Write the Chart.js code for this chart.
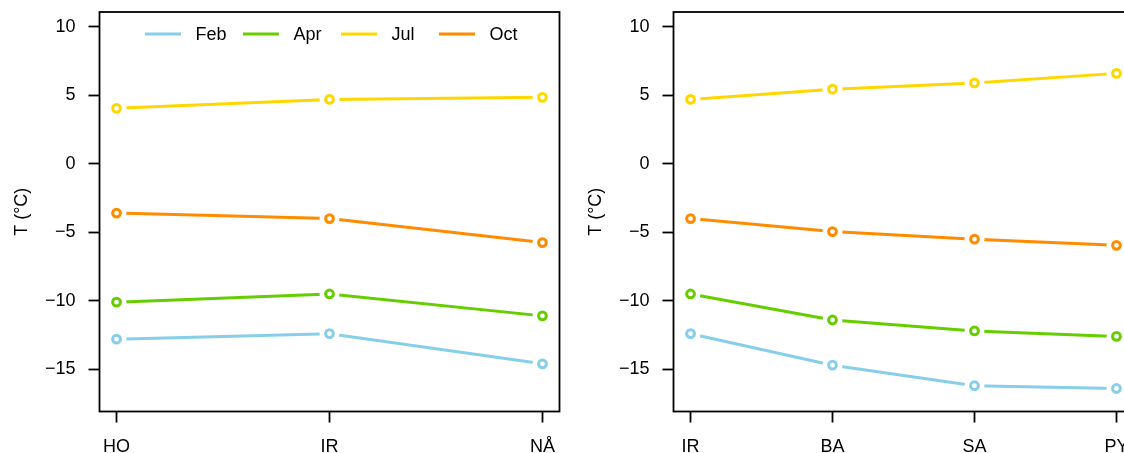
<!DOCTYPE html>
<html>
<head>
<meta charset="utf-8">
<script src="https://cdn.jsdelivr.net/npm/chart.js@4.4.0/dist/chart.umd.min.js"></script>
<style>
  html, body { margin: 0; padding: 0; background: #fff; overflow: hidden; width: 1124px; height: 453px; }
  canvas { position: absolute; top: 0; }
  #left { left: 0; }
  #right { left: 574px; }
</style>
</head>
<body>
<canvas id="left" width="572" height="453"></canvas>
<canvas id="right" width="572" height="453"></canvas>
<script>
// months / colours shared by both panels
const months = ["Feb", "Apr", "Jul", "Oct"];
const colors = ["#87CEEB", "#66CD00", "#FFD700", "#FF8C00"];
const yTicks = [-15, -10, -5, 0, 5, 10];

// left panel
const sitesA = ["HO", "IR", "NÅ"];
const febA = [-12.8, -12.4, -14.6];
const aprA = [-10.1, -9.5, -11.1];
const julA = [4.05, 4.7, 4.85];
const octA = [-3.6, -4.0, -5.75];

// right panel
const sitesB = ["IR", "BA", "SA", "PY"];
const febB = [-12.4, -14.7, -16.2, -16.4];
const aprB = [-9.5, -11.4, -12.2, -12.6];
const julB = [4.7, 5.45, 5.9, 6.6];
const octB = [-4.0, -4.95, -5.5, -5.95];

const font = { family: "'Liberation Sans', Arial, sans-serif", size: 18 };

// R type="b" look: blank out the line around each point, then redraw the point
const gapPlugin = {
  id: "gaps",
  afterDatasetDraw(chart, args) {
    const ctx = chart.ctx, a = chart.chartArea;
    ctx.save();
    ctx.beginPath();
    ctx.rect(a.left, a.top, a.right - a.left, a.bottom - a.top);
    ctx.clip();
    ctx.fillStyle = "#fff";
    args.meta.data.forEach(pt => {
      ctx.beginPath();
      ctx.arc(pt.x, pt.y, 10, 0, Math.PI * 2);
      ctx.fill();
    });
    args.meta.data.forEach(pt => pt.draw(ctx, a));
    ctx.restore();
  }
};

const boxPlugin = {
  id: "box",
  afterDraw(chart) {
    const ctx = chart.ctx, a = chart.chartArea;
    ctx.save();
    ctx.strokeStyle = "#000";
    ctx.lineWidth = 1.8;
    ctx.strokeRect(a.left, a.top, a.right - a.left, a.bottom - a.top);
    ctx.restore();
  }
};

const legendPlugin = {
  id: "lineLegend",
  afterDraw(chart) {
    const ctx = chart.ctx, a = chart.chartArea;
    ctx.save();
    ctx.font = font.size + "px " + font.family;
    ctx.textBaseline = "middle";
    ctx.textAlign = "left";
    chart.data.datasets.forEach((ds, i) => {
      const x0 = a.left + 45.5 + i * 98;
      ctx.strokeStyle = ds.borderColor;
      ctx.lineWidth = 3.2;
      ctx.beginPath();
      ctx.moveTo(x0, 34);
      ctx.lineTo(x0 + 36, 34);
      ctx.stroke();
      ctx.fillStyle = "#000";
      ctx.fillText(ds.label, x0 + 50.5, 35);
    });
    ctx.restore();
  }
};

function makeChart(id, sites, series, withLegend) {
  const pad = 0.04 * (sites.length - 1);
  const datasets = series.map((vals, i) => ({
    label: months[i],
    data: vals.map((v, j) => ({ x: j + 1, y: v })),
    borderColor: colors[i],
    borderWidth: 3,
    pointRadius: 3.9,
    pointBorderWidth: 3,
    pointBackgroundColor: "#fff",
    pointBorderColor: colors[i],
    tension: 0
  }));
  return new Chart(document.getElementById(id), {
    type: "line",
    data: { datasets },
    plugins: withLegend ? [gapPlugin, boxPlugin, legendPlugin] : [gapPlugin, boxPlugin],
    options: {
      responsive: false,
      animation: false,
      layout: { padding: { top: 12, right: 12.5, left: 0, bottom: 0 } },
      plugins: { legend: { display: false }, tooltip: { enabled: false } },
      scales: {
        x: {
          type: "linear",
          min: 1 - pad,
          max: sites.length + pad,
          afterBuildTicks: s => { s.ticks = sites.map((_, i) => ({ value: i + 1 })); },
          afterFit: s => { s.height = 41.5; s.paddingLeft = 0; s.paddingRight = 0; },
          ticks: {
            callback: (v, i) => sites[i],
            font, color: "#000", padding: 14, autoSkip: false, maxRotation: 0
          },
          grid: { drawOnChartArea: false, tickLength: 11, tickColor: "#000", tickWidth: 1.8 },
          border: { display: false }
        },
        y: {
          min: -18.08,
          max: 11.08,
          afterBuildTicks: s => { s.ticks = yTicks.map(v => ({ value: v })); },
          afterFit: s => { s.width = 99.5; s.paddingTop = 0; s.paddingBottom = 0; },
          ticks: {
            callback: v => String(v).replace("-", "\u2212"),
            font, color: "#000", padding: 13
          },
          title: { display: true, text: "T (°C)", font, color: "#000", padding: { top: 11, bottom: 0 } },
          grid: { drawOnChartArea: false, tickLength: 11, tickColor: "#000", tickWidth: 1.8 },
          border: { display: false }
        }
      }
    }
  });
}

makeChart("left", sitesA, [febA, aprA, julA, octA], true);
makeChart("right", sitesB, [febB, aprB, julB, octB], false);
</script>
</body>
</html>
